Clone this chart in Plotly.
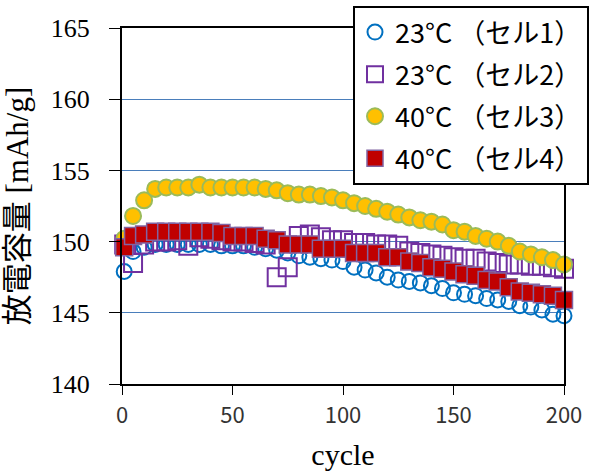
import plotly.graph_objects as go

cycles = [1, 5, 10, 15, 20, 25, 30, 35, 40, 45, 50, 55, 60, 65, 70, 75, 80, 85, 90, 95, 100,
          105, 110, 115, 120, 125, 130, 135, 140, 145, 150, 155, 160, 165, 170, 175, 180, 185, 190, 195, 200]

cell1_23C = [147.9, 149.3, 149.6, 149.8, 149.8, 149.8, 149.8, 149.8, 149.8, 149.7, 149.7, 149.7, 149.6,
             149.5, 149.4, 149.2, 149.0, 148.9, 148.8, 148.7, 148.6, 148.2, 148.0, 147.8, 147.5, 147.3,
             147.2, 147.1, 146.9, 146.7, 146.4, 146.3, 146.2, 146.0, 145.9, 145.8, 145.5, 145.4, 145.2,
             144.9, 144.8]

cell2_23C = [149.8, 148.5, 149.8, 150.0, 150.0, 150.1, 149.7, 150.3, 150.2, 150.1, 150.0, 150.0, 149.9,
             149.8, 147.5, 148.2, 150.4, 150.5, 150.3, 150.1, 150.1, 149.9, 149.9, 149.8, 149.8, 149.7,
             149.3, 149.2, 149.1, 149.0, 148.9, 148.8, 148.8, 148.6, 148.5, 148.4, 148.4, 148.3, 148.3,
             148.2, 148.1]

cell3_40C = [150.2, 151.8, 152.9, 153.7, 153.8, 153.8, 153.8, 154.0, 153.8, 153.8, 153.8, 153.8, 153.8,
             153.7, 153.6, 153.4, 153.3, 153.3, 153.2, 153.1, 152.9, 152.7, 152.5, 152.3, 152.1, 151.9,
             151.7, 151.5, 151.4, 151.2, 150.8, 150.7, 150.4, 150.2, 150.0, 149.7, 149.3, 149.1, 148.9,
             148.7, 148.4]

cell4_40C = [149.6, 150.4, 150.5, 150.7, 150.7, 150.7, 150.7, 150.7, 150.7, 150.6, 150.4, 150.4, 150.4,
             150.2, 150.1, 149.8, 149.8, 149.8, 149.5, 149.5, 149.5, 149.2, 149.2, 149.2, 148.9, 148.9,
             148.6, 148.5, 148.2, 148.1, 147.9, 147.7, 147.6, 147.3, 147.2, 146.8, 146.5, 146.4, 146.3,
             146.2, 145.9]

names = ["23°C （セル1）", "23°C （セル2）", "40°C （セル3）", "40°C （セル4）"]
x_ticks = [0, 50, 100, 150, 200]
y_ticks = [140, 145, 150, 155, 160, 165]

fig = go.Figure()
fig.add_trace(go.Scatter(x=cycles, y=cell1_23C, mode="markers", name=names[0], legendgroup="a",
                         cliponaxis=False,
                         marker=dict(symbol="circle-open", size=15, color="#0070C0",
                                     line=dict(width=2, color="#0070C0"))))
fig.add_trace(go.Scatter(x=cycles, y=cell2_23C, mode="markers", name=names[1], legendgroup="b",
                         cliponaxis=False,
                         marker=dict(symbol="square-open", size=18, color="#7030A0",
                                     line=dict(width=2, color="#7030A0"))))
fig.add_trace(go.Scatter(x=cycles, y=cell3_40C, mode="markers", name=names[2], legendgroup="c",
                         cliponaxis=False,
                         marker=dict(symbol="circle", size=16, color="#FFC000",
                                     line=dict(width=2, color="#9BBB59"))))
fig.add_trace(go.Scatter(x=cycles, y=cell4_40C, mode="markers", name=names[3], legendgroup="d",
                         cliponaxis=False,
                         marker=dict(symbol="square", size=17, color="#C00000",
                                     line=dict(width=1.5, color="#8064A2"))))

fig.update_layout(
    width=597, height=471,
    margin=dict(l=122, r=33, t=28, b=87, autoexpand=False),
    paper_bgcolor="white", plot_bgcolor="white",
    showlegend=True,
    legend=dict(x=353 / 597, y=1 - 6 / 471, xref="container", yref="container",
                xanchor="left", yanchor="top",
                bgcolor="white", bordercolor="black", borderwidth=2,
                font=dict(family="Noto Sans CJK JP", size=27, color="black"),
                tracegroupgap=4, itemsizing="trace"),
    xaxis=dict(range=[0, 200], tickvals=x_ticks, showgrid=False, zeroline=False, automargin=False,
               showline=True, linecolor="black", linewidth=1.5, mirror=True,
               ticks="outside", ticklen=9, tickcolor="black", ticklabelstandoff=2,
               tickfont=dict(family="Noto Sans CJK JP", size=22, color="#333333"),
               title=dict(text="cycle", standoff=16,
                          font=dict(family="Liberation Serif", size=30, color="black"))),
    yaxis=dict(range=[140, 165], tickvals=y_ticks, showgrid=True, gridcolor="#4A7EBB", gridwidth=1,
               zeroline=False, showline=True, linecolor="black", linewidth=2, mirror=True,
               automargin=False,
               ticks="outside", ticklen=11, tickcolor="black", ticklabelstandoff=14,
               tickfont=dict(family="Liberation Serif", size=26, color="black"),
               title=dict(text="放電容量 [mAh/g]", standoff=18,
                          font=dict(family="Liberation Serif, Noto Sans CJK JP", size=31, color="black"))),
)

fig.write_html("out.html", config={"displayModeBar": False},
               post_script="document.body.style.margin='0';document.body.style.padding='0';")
